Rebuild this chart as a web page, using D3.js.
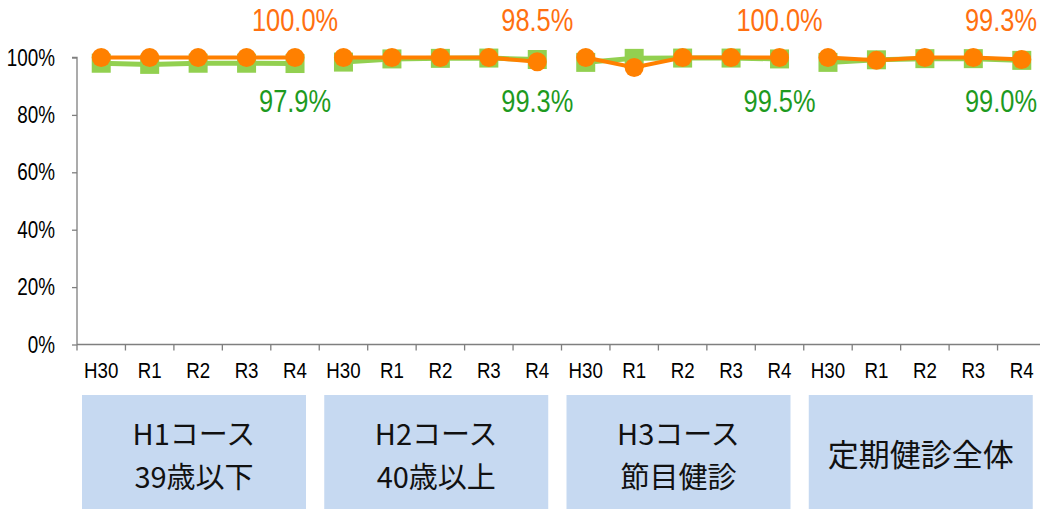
<!DOCTYPE html>
<html><head><meta charset="utf-8">
<script src="https://cdn.jsdelivr.net/npm/d3@7"></script>
<style>
html,body{margin:0;padding:0;background:#fff;}
svg{display:block;}
</style></head>
<body>
<svg id="chart" width="1040" height="509"></svg>
<script>
const years = ["H30","R1","R2","R3","R4"];
const groups = [["H1コース","39歳以下"],["H2コース","40歳以上"],["H3コース","節目健診"],["定期健診全体"]];
const orangeValues = [
  [100.0,100.0,100.0,100.0,100.0],
  [100.0,100.0,100.0,100.0,98.5],
  [100.0,96.5,100.0,100.0,100.0],
  [100.0,99.0,100.0,100.0,99.3]
];
const greenValues = [
  [98.0,97.6,98.0,98.0,97.9],
  [98.4,99.5,99.7,99.8,99.3],
  [98.3,99.7,99.8,99.8,99.5],
  [98.3,99.2,99.6,99.6,99.0]
];
const yTicks = [0,20,40,60,80,100];

const svg = d3.select("#chart");
const sans = "'Liberation Sans',Arial,sans-serif";
const SX = 0.82; // narrow look
const cjk = "'Noto Sans CJK JP','Noto Sans',sans-serif";
const axisColor = "#7f7f7f";
const orange = "#FF8000";
const green = "#92D050";

function ntext(parent, px, py, str, size, anchor, fill, sx){
  return parent.append("text")
    .attr("transform",`translate(${px},${py}) scale(${sx||SX},1)`)
    .attr("text-anchor",anchor).attr("font-family",sans).attr("font-size",size)
    .attr("fill",fill).text(str);
}

const keys = [];
groups.forEach((g,gi)=>years.forEach((y,yi)=>keys.push(gi+"-"+yi)));
const x = d3.scaleBand().domain(keys).range([77, 1046]);
const y = d3.scaleLinear().domain([0,100]).range([344.5, 57.5]);

// y axis
const yAxis = d3.axisLeft(y).tickValues(yTicks).tickSize(5).tickFormat("");
const gy = svg.append("g").attr("transform","translate(77,0)").call(yAxis);
gy.select(".domain").attr("stroke",axisColor).attr("stroke-width",1.3).attr("d","M-5,57.5H0V344.5");
gy.selectAll(".tick line").attr("stroke",axisColor).attr("stroke-width",1.3);
yTicks.forEach(t=>ntext(svg, 55, y(t)+8, t+"%", 23, "end", "#000"));

// x axis baseline + ticks at band boundaries
const bounds = keys.map(k=>x(k)).concat([x.range()[1]]);
svg.append("line").attr("x1",77).attr("x2",1046).attr("y1",y(0)).attr("y2",y(0)).attr("stroke",axisColor).attr("stroke-width",1.3);
svg.selectAll(".xt").data(bounds).join("line").attr("class","xt")
  .attr("x1",d=>d).attr("x2",d=>d).attr("y1",y(0)).attr("y2",y(0)+6)
  .attr("stroke",axisColor).attr("stroke-width",1.3);
keys.forEach(k=>ntext(svg, x(k)+x.bandwidth()/2, 378, years[+k.split("-")[1]], 22, "middle", "#000", 0.85));

// group boxes
const gb = svg.selectAll(".gbox").data(groups).join("g").attr("class","gbox");
gb.append("rect").attr("x",(d,i)=>x(i+"-0")+5).attr("y",395).attr("width",224).attr("height",114).attr("fill","#C6D9F1");
gb.each(function(d,i){
  const cx = x(i+"-0")+5+112;
  const t = d3.select(this);
  if(d.length===2){
    t.append("text").attr("x",cx).attr("y",445).text(d[0]);
    t.append("text").attr("x",cx).attr("y",488).text(d[1]);
  } else {
    t.append("text").attr("x",cx).attr("y",466).text(d[0]);
  }
  t.selectAll("text").attr("text-anchor","middle").attr("font-family",cjk)
    .attr("font-size",d.length===2?29:31).attr("fill","#111");
});

// series
const line = d3.line().x(d=>d.x).y(d=>d.y);
function pts(vals,gi){return vals.map((v,yi)=>({x:x(gi+"-"+yi)+x.bandwidth()/2,y:y(v),v}));}

greenValues.forEach((vals,gi)=>{
  const p = pts(vals,gi);
  svg.append("path").attr("d",line(p)).attr("fill","none").attr("stroke",green).attr("stroke-width",5);
  svg.selectAll(null).data(p).join("rect").attr("x",d=>d.x-9.5).attr("y",d=>d.y-9.5).attr("width",19).attr("height",19).attr("fill",green);
});
orangeValues.forEach((vals,gi)=>{
  const p = pts(vals,gi);
  svg.append("path").attr("d",line(p)).attr("fill","none").attr("stroke",orange).attr("stroke-width",4);
  svg.selectAll(null).data(p).join("circle").attr("cx",d=>d.x).attr("cy",d=>d.y).attr("r",9.5).attr("fill",orange);
});

// data labels on R4
groups.forEach((g,gi)=>{
  let cx = x(gi+"-4")+x.bandwidth()/2;
  let anchor = "middle";
  if(gi===groups.length-1){ cx = 1037; anchor = "end"; }
  ntext(svg, cx, 31, orangeValues[gi][4].toFixed(1)+"%", 31, anchor, "#FF7010");
  ntext(svg, cx, 112, greenValues[gi][4].toFixed(1)+"%", 31, anchor, "#1E9A1E");
});
</script>
</body></html>
